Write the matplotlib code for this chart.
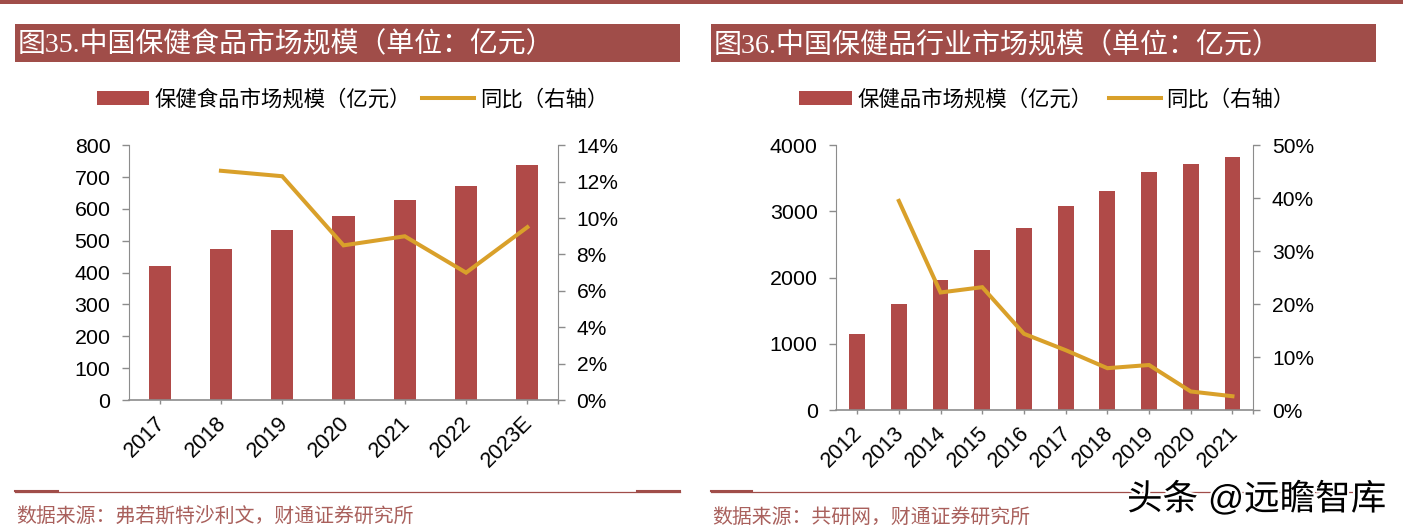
import numpy as np
import matplotlib
matplotlib.use('Agg')
import matplotlib.pyplot as plt
import matplotlib.patheffects as pe
from matplotlib.patches import Rectangle
from matplotlib.lines import Line2D
from matplotlib.transforms import ScaledTranslation

plt.rcParams['font.family'] = ['Liberation Sans', 'Noto Sans CJK SC']

W, H = 1403, 532
BAR = '#B04A48'
LINE = '#D9A02A'
HEAD = '#A04D49'
GREY = '#8C8C8C'

# left chart
years_a = ['2017', '2018', '2019', '2020', '2021', '2022', '2023E']
size_a = [422, 475, 533, 578, 629, 673, 738]
yoy_a = [12.6, 12.3, 8.5, 9.0, 7.0, 9.5]  # starts at 2018
left_ticks_a = [0, 100, 200, 300, 400, 500, 600, 700, 800]
right_ticks_a = [0, 2, 4, 6, 8, 10, 12, 14]

# right chart
years_b = ['2012', '2013', '2014', '2015', '2016', '2017', '2018', '2019', '2020', '2021']
size_b = [1154, 1607, 1960, 2413, 2756, 3078, 3315, 3597, 3723, 3819]
yoy_b = [39.5, 22.2, 23.2, 14.4, 11.3, 7.9, 8.5, 3.5, 2.6]  # starts at 2013
left_ticks_b = [0, 1000, 2000, 3000, 4000]
right_ticks_b = [0, 10, 20, 30, 40, 50]

fig = plt.figure(figsize=(W / 100, H / 100), dpi=100)


def fx(px):
    return px / W


def fy(px):
    return 1 - px / H


def box(x0, y0, x1, y1, color):
    fig.add_artist(Rectangle((fx(x0), fy(y1)), (x1 - x0) / W, (y1 - y0) / H,
                             transform=fig.transFigure, color=color, lw=0))


def draw_chart(rect, years, size, yoy, lticks, rticks, bar_w, names, legend_x, col_gap):
    x0, x1, y0, y1 = rect
    ax = fig.add_axes([fx(x0), fy(y1), (x1 - x0) / W, (y1 - y0) / H])
    x = np.arange(len(years))
    bars = ax.bar(x, size, width=bar_w, color=BAR, zorder=2)
    ax.set_xlim(-0.5, len(years) - 0.5)
    ax.set_ylim(lticks[0], lticks[-1])
    ax.set_yticks(lticks)
    ax.set_xticks(x)
    ax.set_xticks([len(years) - 0.5], minor=True)
    ax.set_xticklabels(years, rotation=45, ha='right', va='top', rotation_mode='anchor', fontsize=15.6)
    ax.tick_params(axis='y', labelsize=15.4, length=4.8, width=1, color=GREY, pad=8.6)
    ax.tick_params(axis='x', which='major', length=3, width=1, color=GREY, pad=6)
    ax.tick_params(axis='x', which='minor', length=3, width=1, color=GREY)
    # shift the slanted year labels a little to the left (after tick_params, it resets transforms)
    shift = ScaledTranslation(-5 / 100, 0, fig.dpi_scale_trans)
    for lab in ax.get_xticklabels():
        lab.set_transform(lab.get_transform() + shift)
    ax.spines['top'].set_visible(False)
    ax.spines['right'].set_visible(False)
    ax.spines['left'].set_color(GREY)
    ax.spines['bottom'].set_color(GREY)
    ax.spines['bottom'].set_linewidth(1.2)

    ax2 = ax.twinx()
    line, = ax2.plot(x[1:], yoy, color=LINE, lw=2.9, solid_joinstyle='miter', zorder=3)
    ax2.set_ylim(rticks[0], rticks[-1])
    ax2.set_yticks(rticks)
    ax2.set_yticklabels([f'{t}%' for t in rticks])
    ax2.tick_params(axis='y', labelsize=15.1, length=4.8, width=1, color=GREY, pad=8.6)
    ax2.spines['top'].set_visible(False)
    ax2.spines['left'].set_visible(False)
    ax2.spines['bottom'].set_visible(False)
    ax2.spines['right'].set_color(GREY)

    ax2.legend([bars, line], names, loc='center', bbox_to_anchor=(fx(legend_x), fy(99)),
               bbox_transform=fig.transFigure, ncol=2, frameon=False, fontsize=15.4,
               handlelength=2.45, handleheight=0.65, handletextpad=0.25, columnspacing=col_gap,
               borderpad=0, borderaxespad=0)


draw_chart((129, 558, 145.3, 400), years_a, size_a, yoy_a, left_ticks_a, right_ticks_a, 0.36,
           ['保健食品市场规模（亿元）', '同比（右轴）'], 352.5, 0.5)
draw_chart((836.3, 1253.3, 145.3, 410), years_b, size_b, yoy_b, left_ticks_b, right_ticks_b, 0.38,
           ['保健品市场规模（亿元）', '同比（右轴）'], 1047, 0.77)

# header band and title bars
box(0, 0, W, 3.5, HEAD)
box(15, 24, 680, 61.5, HEAD)
box(711, 24, 1376, 61.5, HEAD)
title_font = ['Liberation Serif', 'Noto Sans CJK SC']
fig.text(fx(18), fy(45), '图35.中国保健食品市场规模（单位：亿元）', color='white', fontsize=20.1,
         family=title_font, va='center', ha='left')
fig.text(fx(714), fy(45), '图36.中国保健品行业市场规模（单位：亿元）', color='white', fontsize=20.2,
         family=title_font, va='center', ha='left')

# footer rules
for a, b, c, d in [(15, 680, 58, 637), (711, 1376, 752, 1376)]:
    fig.add_artist(Line2D([fx(a), fx(b)], [fy(491.5)] * 2, color=HEAD, lw=0.9))
    fig.add_artist(Line2D([fx(a), fx(c)], [fy(491)] * 2, color=HEAD, lw=1.5))
    if d < b:
        fig.add_artist(Line2D([fx(d), fx(b)], [fy(491)] * 2, color=HEAD, lw=1.5))
fig.text(fx(16.5), fy(517), '数据来源：弗若斯特沙利文，财通证券研究所', color='#A9605C', fontsize=14.3,
         va='center', ha='left')
fig.text(fx(712), fy(517), '数据来源：共研网，财通证券研究所', color='#A9605C', fontsize=14.3,
         va='center', ha='left')

# watermark
fig.text(fx(1127), fy(500), '头条 @远瞻智库', color='black', fontsize=25.6, va='center', ha='left',
         path_effects=[pe.withStroke(linewidth=3, foreground='white')])

fig.savefig('out.png', dpi=100)
